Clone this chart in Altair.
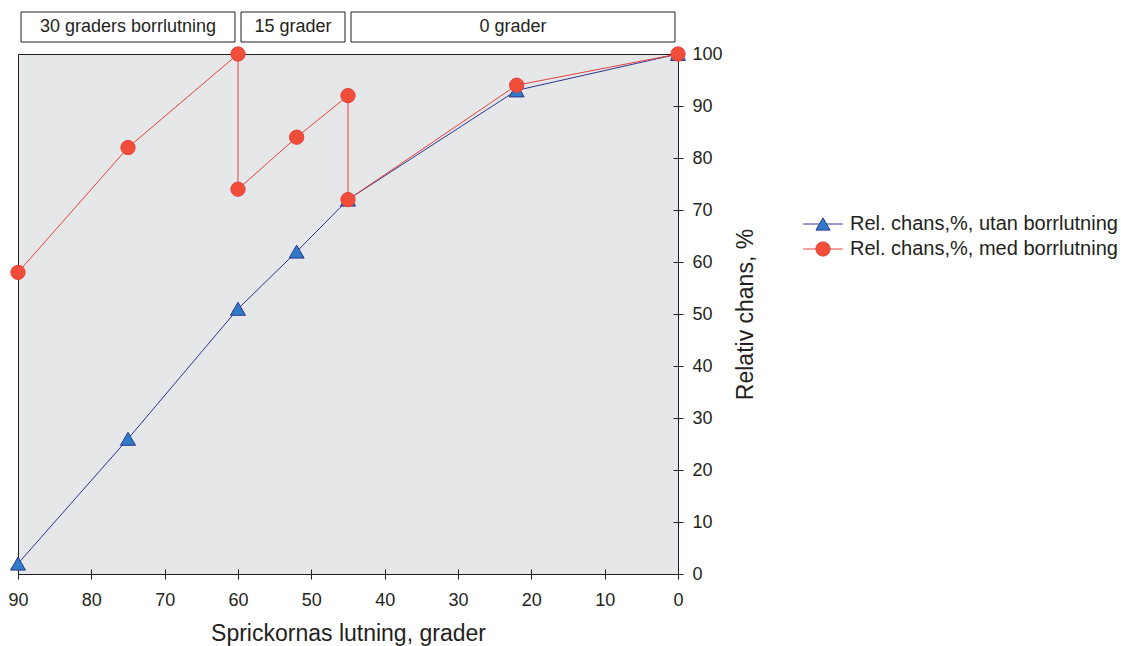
import altair as alt
import pandas as pd

# ---- data ----
blue_x = [90, 75, 60, 52, 45, 22, 0]
blue_y = [2, 26, 51, 62, 72, 93, 100]
red_x = [90, 75, 60, 60, 52, 45, 45, 22, 0]
red_y = [58, 82, 100, 74, 84, 92, 72, 94, 100]
series_names = ["Rel. chans,%, utan borrlutning", "Rel. chans,%, med borrlutning"]
box_labels = ["30 graders borrlutning", "15 grader", "0 grader"]
box_from = [90, 60, 45]
box_to = [60, 45, 0]
x_ticks = list(range(0, 91, 10))
y_ticks = list(range(0, 101, 10))

FONT = "Liberation Sans"
INK = "#231f20"
BLUE_FILL = "#2f7bc8"
BLUE_LINE = "#2b3590"
RED_FILL = "#f04e38"
RED_LINE = "#e8403c"

blue_df = pd.DataFrame({"x": blue_x, "y": blue_y, "order": list(range(len(blue_x))),
                        "series": series_names[0]})
red_df = pd.DataFrame({"x": red_x, "y": red_y, "order": list(range(len(red_x))),
                       "series": series_names[1]})
all_df = pd.concat([blue_df, red_df], ignore_index=True)
box_df = pd.DataFrame({"label": box_labels, "start": box_from, "end": box_to})

xscale = alt.Scale(domain=[0, 90], reverse=True, nice=False)
yscale = alt.Scale(domain=[0, 100], nice=False)

xaxis = alt.Axis(values=x_ticks, title="Sprickornas lutning, grader", orient="bottom",
                 domain=False, offset=-5, tickSize=10, tickColor=INK, tickWidth=1,
                 labelFontSize=18, labelPadding=12, labelColor=INK, labelFont=FONT,
                 labelFlush=False, labelOverlap=False,
                 titleFontSize=23, titleFontWeight="normal", titleColor=INK, titleFont=FONT,
                 titlePadding=13, grid=False)
yaxis = alt.Axis(values=y_ticks, title="Relativ chans, %", orient="right",
                 domain=False, offset=-5, tickSize=10, tickColor=INK, tickWidth=1,
                 labelFontSize=18, labelPadding=9, labelColor=INK, labelFont=FONT,
                 labelAlign="left", labelBaseline="middle",
                 labelFlush=False, labelOverlap=False,
                 titleAngle=270, titleFontSize=23, titleFontWeight="normal",
                 titleColor=INK, titleFont=FONT, titlePadding=35, grid=False)

X = alt.X("x:Q", scale=xscale, axis=xaxis)
Y = alt.Y("y:Q", scale=yscale, axis=yaxis)
Xn = alt.X("x:Q", scale=xscale)
Yn = alt.Y("y:Q", scale=yscale)

blue_line = alt.Chart(blue_df).mark_line(color=BLUE_LINE, strokeWidth=1).encode(
    x=X, y=Y, order="order:Q")
blue_pts = alt.Chart(blue_df).mark_point(shape="triangle-up", filled=True, fill=BLUE_FILL,
                                         stroke=BLUE_LINE, strokeWidth=1, opacity=1,
                                         size=225).encode(x=Xn, y=Yn)
red_line = alt.Chart(red_df).mark_line(color=RED_LINE, strokeWidth=1).encode(
    x=Xn, y=Yn, order="order:Q")
red_pts = alt.Chart(red_df).mark_point(shape="circle", filled=True, fill=RED_FILL,
                                       stroke=RED_LINE, strokeWidth=1, opacity=1,
                                       size=205).encode(x=Xn, y=Yn)

tri_path = "M-2.8,0H-0.5M0.5,0H2.8M0,-0.866L1,0.866L-1,0.866Z"
circ_path = "M-2.8,0H-1M1,0H2.8M1,0A1,1,0,1,1,-1,0A1,1,0,1,1,1,0Z"

legend = alt.Legend(title=None, orient="none", legendX=795, legendY=160,
                    labelFontSize=20, labelColor=INK, labelFont=FONT, labelLimit=0,
                    symbolSize=200, symbolStrokeWidth=1, labelOffset=17,
                    rowPadding=5, padding=0)
legend_layer = alt.Chart(all_df).transform_filter("datum.y > 1000").mark_point(
    filled=True, opacity=1, strokeWidth=1).encode(
    x=Xn, y=Yn,
    fill=alt.Fill("series:N", scale=alt.Scale(domain=series_names, range=[BLUE_FILL, RED_FILL]),
                  legend=legend),
    stroke=alt.Stroke("series:N", scale=alt.Scale(domain=series_names, range=[BLUE_LINE, RED_LINE]),
                      legend=legend),
    shape=alt.Shape("series:N", scale=alt.Scale(domain=series_names, range=[tri_path, circ_path]),
                    legend=legend),
)

boxes = alt.Chart(box_df).mark_rect(fill="white", stroke=INK, strokeWidth=1,
                                    xOffset=3, x2Offset=-3).encode(
    x=alt.X("start:Q", scale=xscale), x2="end:Q",
    y=alt.value(-42), y2=alt.value(-12))
box_text = alt.Chart(box_df).transform_calculate(mid="(datum.start + datum.end) / 2").mark_text(
    font=FONT, fontSize=18, color=INK, baseline="middle", align="center").encode(
    x=alt.X("mid:Q", scale=xscale), y=alt.value(-27), text="label:N")

chart = alt.layer(blue_line, blue_pts, red_line, red_pts, legend_layer, boxes, box_text).properties(
    width=660, height=520,
    padding={"left": 18, "top": 54, "right": 443, "bottom": 72},
    autosize=alt.AutoSizeParams(type="none"),
    background="white",
).configure_view(fill="#e6e7e9", stroke=INK, strokeWidth=1)

chart.save("out.html", embed_options={"renderer": "svg", "actions": False})
